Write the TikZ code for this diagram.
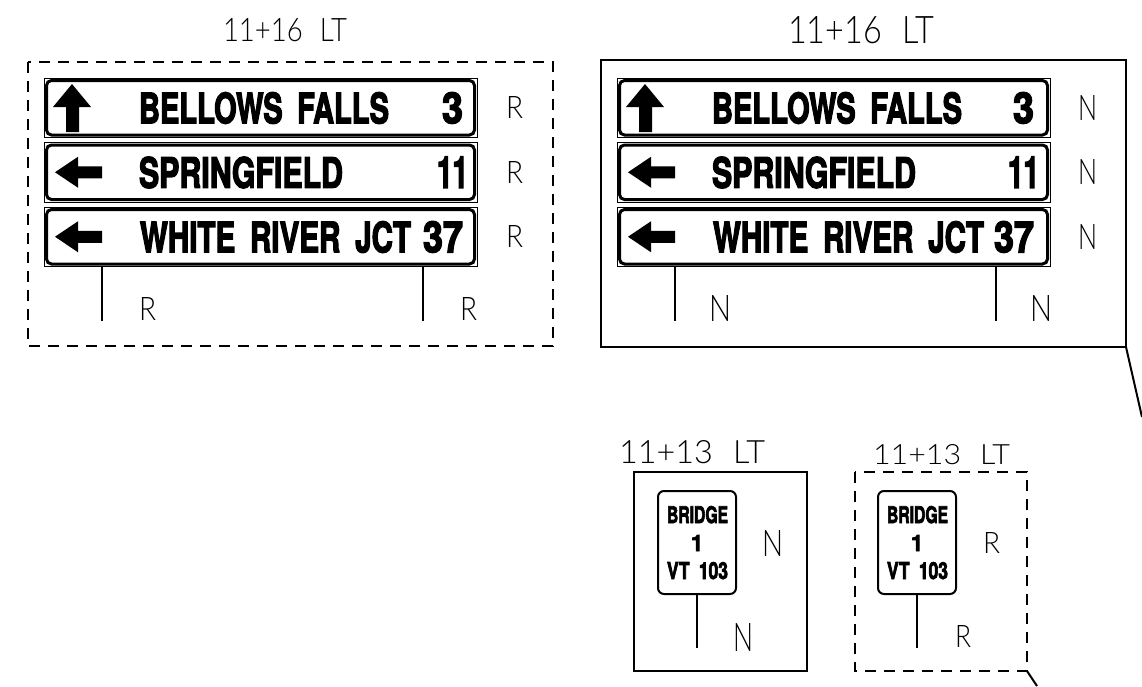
\documentclass[tikz,border=0pt]{standalone}
\usepackage{fontspec}
\usepackage{graphicx}
\setmainfont{Liberation Sans}
\IfFontExistsTF{Lato Light}{\newfontfamily\thinfont{Lato Light}}{\newfontfamily\thinfont{Liberation Sans}}
\newfontfamily\signfont[FakeBold=3.5]{TeX Gyre Heros}
\newcommand\fitthin[3]{\resizebox{#1pt}{#2pt}{\thinfont #3}}
\newcommand\fitsign[3]{\resizebox{#1pt}{#2pt}{\signfont\bfseries #3}}
\newcommand\wsp{\hspace{0.5em}}
\begin{document}
\begin{tikzpicture}[x=1pt,y=-1pt,
  signedge/.style={draw=black,line width=0.8pt},
  signborder/.style={draw=black,line width=3pt,rounded corners=5pt},
  smallsign/.style={draw=black,line width=2pt,rounded corners=6pt},
  signpost/.style={draw=black,line width=1.6pt},
  dashbox/.style={draw=black,line width=1.6pt,dash pattern=on 11pt off 8pt},
  solidbox/.style={draw=black,line width=2pt},
  leader/.style={draw=black,line width=2pt},
  lbl/.style={inner sep=0pt,outer sep=0pt},
  arrowfill/.style={fill=black,draw=none}]
\useasboundingbox (0,0) rectangle (1142,686);

% ================= LEFT PANEL (existing, R) =================
\node[lbl,anchor=base west] (titleA) at (223,41) {\fitthin{124}{23}{11+16\hspace{0.35em} LT}};
\draw[dashbox] (28,62) rectangle (553,346);

\foreach \i/\t in {1/78,2/142.5,3/207}{
  \draw[signedge] (44,\t) rectangle (477,\t+59.5);
  \draw[signborder] (46.5,\t+2.5) rectangle (474.5,\t+57);
}
% arrows
\fill[arrowfill] (72,84) -- (91,107) -- (79,107) -- (79,132) -- (66,132) -- (66,107) -- (53,107) -- cycle;
\fill[arrowfill] (55,172.25) -- (78,156.75) -- (78,166.25) -- (102,166.25) -- (102,178.25) -- (78,178.25) -- (78,187.75) -- cycle;
\fill[arrowfill] (55,236.75) -- (78,221.25) -- (78,230.75) -- (102,230.75) -- (102,242.75) -- (78,242.75) -- (78,252.25) -- cycle;
% sign texts
\node[lbl,anchor=base west] (a1) at (139,123.25) {\fitsign{250}{31}{BELLOWS\wsp FALLS}};
\node[lbl,anchor=base west] (a1n) at (442,123.25) {\fitsign{21}{31}{3}};
\node[lbl,anchor=base west] (a2) at (139,187.75) {\fitsign{204}{31}{SPRINGFIELD}};
\node[lbl,anchor=base west] (a2n) at (437,187.75) {\fitsign{31}{31}{11}};
\node[lbl,anchor=base west] (a3) at (140,252.25) {\fitsign{271}{31}{WHITE\wsp RIVER\wsp JCT}};
\node[lbl,anchor=base west] (a3n) at (423,252.25) {\fitsign{40}{31}{37}};
% posts
\coordinate (pA1t) at (102,266.5); \coordinate (pA1b) at (102,321);
\coordinate (pA2t) at (423,266.5); \coordinate (pA2b) at (423,321);
\draw[signpost] (pA1t) -- (pA1b);
\draw[signpost] (pA2t) -- (pA2b);
% labels
\node[lbl,anchor=base west] (rA1) at (506,118.75) {\fitthin{17}{22}{R}};
\node[lbl,anchor=base west] (rA2) at (506,183.25) {\fitthin{17}{22}{R}};
\node[lbl,anchor=base west] (rA3) at (506,247.75) {\fitthin{17}{22}{R}};
\node[lbl,anchor=base west] (rA4) at (139,320) {\fitthin{17}{23}{R}};
\node[lbl,anchor=base west] (rA5) at (460,320) {\fitthin{17}{23}{R}};

% ================= RIGHT PANEL (new, N) =================
\node[lbl,anchor=base west] (titleB) at (788,43) {\fitthin{146}{27}{11+16\hspace{0.35em} LT}};
\draw[solidbox] (601,60) rectangle (1126,347);
\coordinate (boxBse) at (1126,347);
\coordinate (leadB) at (1142,417);
\draw[leader] (boxBse) -- (leadB);

\foreach \i/\t in {1/78,2/142.5,3/207}{
  \draw[signedge] (617,\t) rectangle (1050,\t+59.5);
  \draw[signborder] (619.5,\t+2.5) rectangle (1047.5,\t+57);
}
\begin{scope}[xshift=573pt]
\fill[arrowfill] (72,84) -- (91,107) -- (79,107) -- (79,132) -- (66,132) -- (66,107) -- (53,107) -- cycle;
\fill[arrowfill] (55,172.25) -- (78,156.75) -- (78,166.25) -- (102,166.25) -- (102,178.25) -- (78,178.25) -- (78,187.75) -- cycle;
\fill[arrowfill] (55,236.75) -- (78,221.25) -- (78,230.75) -- (102,230.75) -- (102,242.75) -- (78,242.75) -- (78,252.25) -- cycle;
\end{scope}
\node[lbl,anchor=base west] (b1) at (712,123.25) {\fitsign{250}{31}{BELLOWS\wsp FALLS}};
\node[lbl,anchor=base west] (b1n) at (1013,123.25) {\fitsign{21}{31}{3}};
\node[lbl,anchor=base west] (b2) at (712,187.75) {\fitsign{204}{31}{SPRINGFIELD}};
\node[lbl,anchor=base west] (b2n) at (1008,187.75) {\fitsign{31}{31}{11}};
\node[lbl,anchor=base west] (b3) at (713,252.25) {\fitsign{271}{31}{WHITE\wsp RIVER\wsp JCT}};
\node[lbl,anchor=base west] (b3n) at (994,252.25) {\fitsign{40}{31}{37}};
\coordinate (pB1t) at (675,266.5); \coordinate (pB1b) at (675,321);
\coordinate (pB2t) at (996,266.5); \coordinate (pB2b) at (996,321);
\draw[signpost] (pB1t) -- (pB1b);
\draw[signpost] (pB2t) -- (pB2b);
\node[lbl,anchor=base west] (nB1) at (1078,120.25) {\fitthin{19}{25}{N}};
\node[lbl,anchor=base west] (nB2) at (1078,184.75) {\fitthin{19}{25}{N}};
\node[lbl,anchor=base west] (nB3) at (1078,249.25) {\fitthin{19}{25}{N}};
\node[lbl,anchor=base west] (nB4) at (709,321) {\fitthin{22}{26}{N}};
\node[lbl,anchor=base west] (nB5) at (1030,321) {\fitthin{22}{26}{N}};

% ================= BRIDGE SIGN (new, N) =================
\node[lbl,anchor=base west] (titleC) at (619,463) {\fitthin{146}{23}{11+13\hspace{0.35em} LT}};
\draw[solidbox] (634,472) rectangle (807,671);
\draw[smallsign] (658,491) rectangle (736,594);
\node[lbl,anchor=base west] (c1) at (667,523) {\fitsign{61}{17}{BRIDGE}};
\node[lbl,anchor=base] (c2) at (697,551) {\fitsign{12}{16}{1}};
\node[lbl,anchor=base west] (c3) at (667,579) {\fitsign{61}{17}{VT\hspace{0.25em} 103}};
\coordinate (pCt) at (697,594); \coordinate (pCb) at (697,648);
\draw[signpost] (pCt) -- (pCb);
\node[lbl,anchor=base west] (nC1) at (762,556) {\fitthin{21}{26}{N}};
\node[lbl,anchor=base west] (nC2) at (733,651) {\fitthin{20}{28}{N}};

% ================= BRIDGE SIGN (existing, R) =================
\node[lbl,anchor=base west] (titleD) at (873,464) {\fitthin{137}{20}{11+13\hspace{0.35em} LT}};
\draw[dashbox] (855,472) rectangle (1027,671);
\coordinate (boxDse) at (1027,671);
\coordinate (leadD) at (1037,686);
\draw[leader] (boxDse) -- (leadD);
\draw[smallsign] (878,491) rectangle (956,594);
\node[lbl,anchor=base west] (d1) at (887,523) {\fitsign{61}{17}{BRIDGE}};
\node[lbl,anchor=base] (d2) at (917,551) {\fitsign{12}{16}{1}};
\node[lbl,anchor=base west] (d3) at (887,579) {\fitsign{61}{17}{VT\hspace{0.25em} 103}};
\coordinate (pDt) at (917,594); \coordinate (pDb) at (917,648);
\draw[signpost] (pDt) -- (pDb);
\node[lbl,anchor=base west] (rD1) at (983,553) {\fitthin{17}{21}{R}};
\node[lbl,anchor=base west] (rD2) at (955,647) {\fitthin{16}{22}{R}};
\end{tikzpicture}
\end{document}
